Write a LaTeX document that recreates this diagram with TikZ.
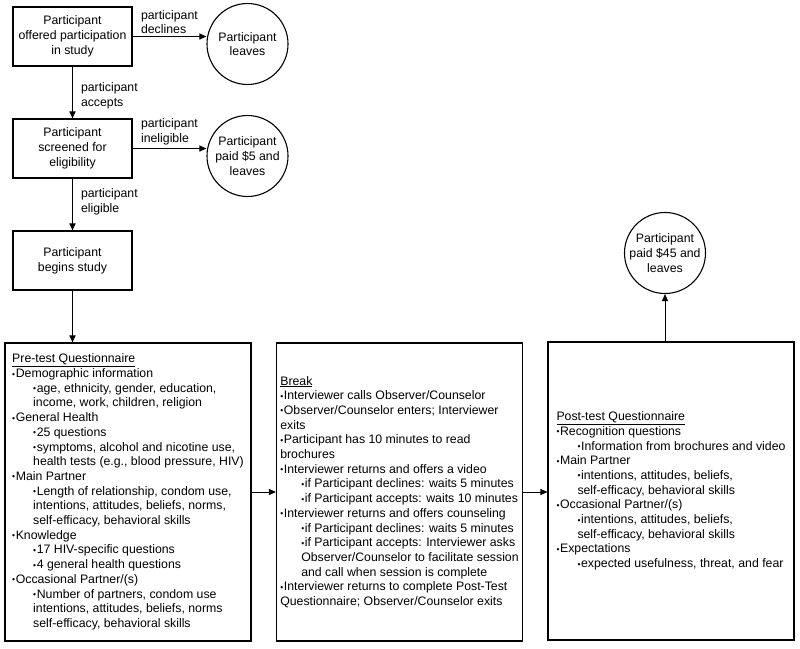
\documentclass[tikz,border=0pt]{standalone}
\usepackage{fontspec}
\setmainfont{Liberation Sans}
\usepackage{tikz}
\usetikzlibrary{shapes, arrows.meta, positioning, calc}

\newcommand{\bul}{{\fontsize{8.5}{8.5}\selectfont\raisebox{0.5pt}{\textbullet}}\kern0.6pt}
\newcommand{\sub}{\hspace*{21pt}}

\begin{document}
\begin{tikzpicture}[x=1pt, y=-1pt, line width=1pt,
    >={Triangle[length=7pt,width=6pt]},
    font=\fontsize{12.3}{14.7}\selectfont,
    stepbox/.style={draw, line width=1.1pt, minimum width=119pt, minimum height=59pt, align=center, inner sep=0pt},
    endcircle/.style={draw, circle, line width=1.1pt, minimum size=81pt, inner sep=0pt, align=center},
    bigbox/.style={draw, line width=1.1pt, minimum width=246pt, minimum height=298pt, align=left, inner sep=0pt},
    elabel/.style={align=left, inner sep=0pt}]
      \useasboundingbox (0,0) rectangle (800,648);

      \node [stepbox] (OP) at (72.5,36.5) {Participant\\offered participation\\in study};
      \node [endcircle] (PL) at (247.5,44) {Participant\\leaves};
      \node [stepbox] (SC) at (72.5,148.5) {Participant\\screened for\\eligibility};
      \node [endcircle] (PP5) at (247.5,156) {Participant\\paid \$5 and\\leaves};
      \node [stepbox] (BS) at (72.5,260.5) {Participant\\begins study};

      \node [bigbox] (PRE) at (128,492) {\underline{Pre-test Questionnaire}\\
        \bul Demographic information\\
        \sub\bul age, ethnicity, gender, education,\\
        \sub income, work, children, religion\\
        \bul General Health\\
        \sub\bul 25 questions\\
        \sub\bul symptoms, alcohol and nicotine use,\\
        \sub health tests (e.g., blood pressure, HIV)\\
        \bul Main Partner\\
        \sub\bul Length of relationship, condom use,\\
        \sub intentions, attitudes, beliefs, norms,\\
        \sub self-efficacy, behavioral skills\\
        \bul Knowledge\\
        \sub\bul 17 HIV-specific questions\\
        \sub\bul 4 general health questions\\
        \bul Occasional Partner/(s)\\
        \sub\bul Number of partners, condom use\\
        \sub intentions, attitudes, beliefs, norms\\
        \sub self-efficacy, behavioral skills};

      \node [bigbox] (BRK) at (399.5,492) {\underline{Break}\\
        \bul Interviewer calls Observer/Counselor\\
        \bul Observer/Counselor enters; Interviewer\\
        exits\\
        \bul Participant has 10 minutes to read\\
        brochures\\
        \bul Interviewer returns and offers a video\\
        \sub\bul if Participant declines: waits 5 minutes\\
        \sub\bul if Participant accepts: waits 10 minutes\\
        \bul Interviewer returns and offers counseling\\
        \sub\bul if Participant declines: waits 5 minutes\\
        \sub\bul if Participant accepts: Interviewer asks\\
        \sub Observer/Counselor to facilitate session\\
        \sub and call when session is complete\\
        \bul Interviewer returns to complete Post-Test\\
        Questionnaire; Observer/Counselor exits};

      \node [bigbox] (POST) at (671,491) {\underline{Post-test Questionnaire}\\
        \bul Recognition questions\\
        \sub\bul Information from brochures and video\\
        \bul Main Partner\\
        \sub\bul intentions, attitudes, beliefs,\\
        \sub self-efficacy, behavioral skills\\
        \bul Occasional Partner/(s)\\
        \sub\bul intentions, attitudes, beliefs,\\
        \sub self-efficacy, behavioral skills\\
        \bul Expectations\\
        \sub\bul expected usefulness, threat, and fear};

      \node [endcircle] (PP45) at (665,253) {Participant\\paid \$45 and\\leaves};

      % screening steps
      \draw [->] (OP.east) -- node [elabel, pos=0, anchor=south west, xshift=8pt, yshift=2pt] {participant\\declines} (OP.east -| PL.west);
      \draw [->] (OP) -- node [elabel, right=8pt, yshift=-3pt] {participant\\accepts} (SC);
      \draw [->] (SC.east) -- node [elabel, pos=0, anchor=south west, xshift=8pt, yshift=3pt] {participant\\ineligible} (SC.east -| PP5.west);
      \draw [->] (SC) -- node [elabel, right=8pt, yshift=3pt] {participant\\eligible} (BS);

      % study sessions
      \draw [->] (BS.south) -- (BS.south |- PRE.north);
      \draw [->] (PRE) -- (BRK);
      \draw [->] (BRK.east) -- (BRK.east -| POST.west);
      \draw [->] (PP45 |- POST.north) -- (PP45.south);
    \end{tikzpicture}
\end{document}
